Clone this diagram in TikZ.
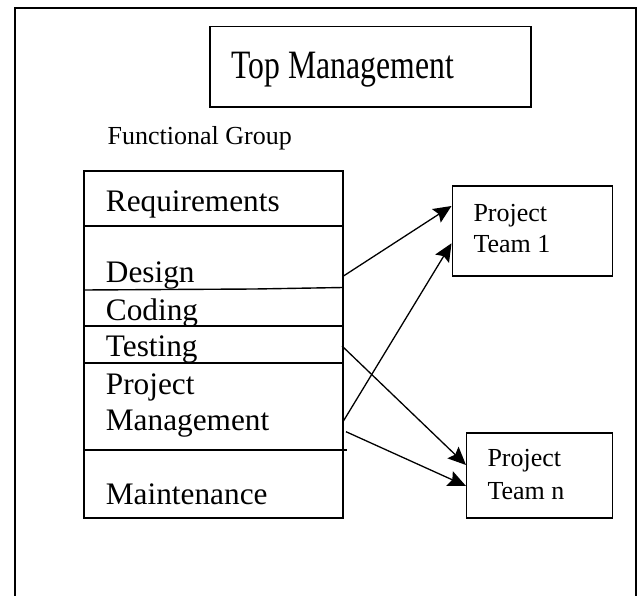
\documentclass[tikz,border=0pt]{standalone}
\usepackage{fontspec}
\setmainfont{Liberation Serif}
\usetikzlibrary{arrows.meta}
\begin{document}
\begin{tikzpicture}[x=1pt,y=-1pt,
  boxline/.style={draw=black,line width=1.4pt},
  big/.style={font=\fontsize{31.3}{31.3}\selectfont,anchor=base west,inner sep=0pt},
  small/.style={font=\fontsize{26}{26}\selectfont,anchor=base west,inner sep=0pt},
  conn/.style={line width=1.3pt,-{Stealth[length=18pt,width=16pt,inset=3pt]}}]
\useasboundingbox (0,0) rectangle (640,596);
% outer frame
\draw[boxline] (15,600) -- (15,8) -- (636,8) -- (636,600);
% top management
\draw[boxline] (210,26.5) rectangle (531,107);
\node[big,font=\fontsize{31.7}{31.7}\selectfont] (topm) at (231.5,79) {\scalebox{1}[1.27]{Top Management}};
% functional group label
\node[small] (fg) at (107.5,145) {Functional Group};
% functional group box
\draw[boxline] (84,171) rectangle (343,518);
\draw[boxline] (84,226) -- (343,226);
\draw[boxline] (84,290) -- (255,289) -- (343,287.5);
\draw[boxline] (84,326) -- (343,326);
\draw[boxline] (84,363) -- (343,363);
\draw[boxline] (84,450) -- (347,450);
\node[big] (req) at (105.7,211.7) {Requirements};
\node[big] (des) at (105.7,282.5) {Design};
\node[big] (cod) at (105.7,320) {Coding};
\node[big] (tes) at (105.7,356) {Testing};
\node[big] (pm1) at (105.7,394) {Project};
\node[big] (pm2) at (105.7,430.7) {Management};
\node[big] (mai) at (105.7,504) {Maintenance};
% project teams
\draw[boxline] (452.5,186) rectangle (612.5,276);
\node[small] (t1a) at (473.3,221.7) {Project};
\node[small] (t1b) at (473.3,252.7) {Team 1};
\draw[boxline] (466.5,433) rectangle (612.5,518);
\node[small] (tna) at (487.3,466.7) {Project};
\node[small] (tnb) at (487.3,499) {Team n};
% connector end points
\coordinate (s1) at (343.5,276);
\coordinate (e1) at (451.5,206);
\coordinate (s2) at (343,421.7);
\coordinate (e2) at (451.5,243.3);
\coordinate (s3) at (342,346);
\coordinate (e3) at (466,465);
\coordinate (s4) at (346,431.7);
\coordinate (e4) at (466,486);
\draw[conn] (s1) -- (e1);
\draw[conn] (s2) -- (e2);
\draw[conn] (s3) -- (e3);
\draw[conn] (s4) -- (e4);
\end{tikzpicture}
\end{document}
